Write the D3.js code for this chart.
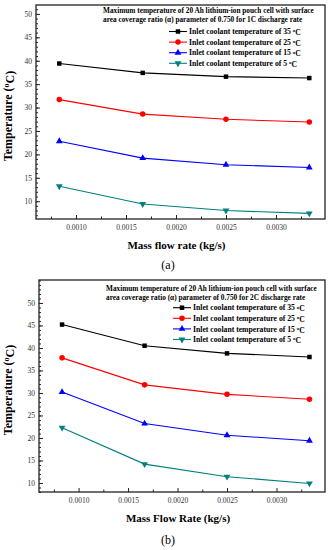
<!DOCTYPE html>
<html>
<head>
<meta charset="utf-8">
<script src="https://cdn.jsdelivr.net/npm/d3@7"></script>
<style>
  body { margin: 0; background: #fff; }
  svg { display: block; }
  text { font-family: "Liberation Serif", "Times New Roman", serif; }
</style>
</head>
<body>
<div id="chart"></div>
<script>
// data
var massFlow = [0.000833, 0.001667, 0.0025, 0.003333];
var inletTemps = ["35", "25", "15", "5"];
var xTicks = [0.0010, 0.0015, 0.0020, 0.0025, 0.0030];
var yTicks = [10, 15, 20, 25, 30, 35, 40, 45, 50];

// 1C discharge
var tempA35 = [39.4, 37.4, 36.6, 36.3];
var tempA25 = [31.7, 28.6, 27.5, 26.9];
var tempA15 = [22.8, 19.2, 17.8, 17.2];
var tempA5 = [13.2, 9.4, 8.0, 7.4];
// 2C discharge
var tempB35 = [45.2, 40.5, 38.8, 38.0];
var tempB25 = [37.8, 31.8, 29.7, 28.6];
var tempB15 = [30.2, 23.2, 20.6, 19.4];
var tempB5 = [22.3, 14.2, 11.4, 9.9];

var colors = ["#000000", "#ff0000", "#0000ff", "#008080"];
var symbols = [d3.symbolSquare, d3.symbolCircle, d3.symbolTriangle, d3.symbolTriangle];

var svg = d3.select("#chart").append("svg")
    .attr("width", 330)
    .attr("height", 550);

function drawPanel(opt) {
    var g = svg.append("g");
    var x = d3.scaleLinear().domain([0.0006, 0.00349]).range([opt.left, opt.right]);
    var y = d3.scaleLinear().domain(opt.yDomain).range([opt.bottom, opt.top]);

    // frame
    g.append("rect")
        .attr("x", opt.left).attr("y", opt.top)
        .attr("width", opt.right - opt.left).attr("height", opt.bottom - opt.top)
        .attr("fill", "none").attr("stroke", "#222").attr("stroke-width", 1.3);

    // x axis, inward ticks
    var xMinor = d3.range(0.00075, 0.0034, 0.0005);
    g.append("g")
        .attr("transform", "translate(0," + opt.bottom + ")")
        .call(d3.axisTop(x).tickValues(xMinor).tickSize(2.5).tickFormat(""))
        .call(function(a) { a.select(".domain").remove(); });
    var xa = g.append("g")
        .attr("transform", "translate(0," + opt.bottom + ")")
        .call(d3.axisTop(x).tickValues(xTicks).tickSize(4).tickFormat(d3.format(".4f")));
    xa.select(".domain").remove();
    xa.selectAll("text").attr("y", 11).attr("dy", 0)
        .style("font-size", "7.5px").attr("fill", "#333");

    // y axis, inward ticks
    var yMinor = d3.range(Math.ceil(opt.yDomain[0]), opt.yDomain[1], 1);
    g.append("g")
        .attr("transform", "translate(" + opt.left + ",0)")
        .call(d3.axisRight(y).tickValues(yMinor).tickSize(2).tickFormat(""))
        .call(function(a) { a.select(".domain").remove(); });
    var ya = g.append("g")
        .attr("transform", "translate(" + opt.left + ",0)")
        .call(d3.axisRight(y).tickValues(yTicks).tickSize(4));
    ya.select(".domain").remove();
    ya.selectAll("text").attr("x", -4).attr("dy", "0.32em")
        .attr("text-anchor", "end")
        .style("font-size", "7.5px").attr("fill", "#333");
    g.selectAll(".tick line").attr("stroke", "#222");

    // lines and markers
    var line = d3.line()
        .x(function(d, i) { return x(massFlow[i]); })
        .y(function(d) { return y(d); });
    opt.series.forEach(function(vals, s) {
        g.append("path").datum(vals)
            .attr("d", line).attr("fill", "none")
            .attr("stroke", colors[s]).attr("stroke-width", 1.1);
        g.selectAll(null).data(vals).enter().append("path")
            .attr("d", d3.symbol().type(symbols[s]).size(s === 1 ? 24 : 20))
            .attr("transform", function(d, i) {
                return "translate(" + x(massFlow[i]) + "," + y(d) + ")" + (s === 3 ? " rotate(180)" : "");
            })
            .attr("fill", colors[s]);
    });

    // title
    var tt = g.append("text")
        .attr("x", opt.titleX).attr("y", opt.titleY)
        .style("font-size", "7.3px").style("font-weight", "bold");
    tt.append("tspan").attr("x", opt.titleX).text(opt.title[0]);
    tt.append("tspan").attr("x", opt.titleX).attr("dy", 9.5).text(opt.title[1]);

    // legend
    inletTemps.forEach(function(t, s) {
        var ly = opt.legY + s * 10.6;
        g.append("line")
            .attr("x1", opt.legX).attr("x2", opt.legX + 18)
            .attr("y1", ly).attr("y2", ly)
            .attr("stroke", colors[s]).attr("stroke-width", 1.1);
        g.append("path")
            .attr("d", d3.symbol().type(symbols[s]).size(s === 1 ? 24 : 20))
            .attr("transform", "translate(" + (opt.legX + 9) + "," + ly + ")" + (s === 3 ? " rotate(180)" : ""))
            .attr("fill", colors[s]);
        var lt = g.append("text")
            .attr("x", opt.legX + 20).attr("y", ly).attr("dy", "0.35em")
            .style("font-size", "7.7px").style("font-weight", "bold");
        lt.append("tspan").text("Inlet coolant temperature of " + t + " ");
        lt.append("tspan").attr("dy", "-0.35em").style("font-size", "5px").text("o");
        lt.append("tspan").attr("dy", "0.35em").text("C");
    });

    // axis labels
    var yl = g.append("text")
        .attr("transform", "translate(" + opt.yLabelX + "," + opt.yLabelY + ") rotate(-90)")
        .attr("text-anchor", "middle")
        .style("font-size", "12px").style("font-weight", "bold");
    yl.append("tspan").text("Temperature (");
    yl.append("tspan").attr("dy", "-0.4em").style("font-size", "8px").text("o");
    yl.append("tspan").attr("dy", "0.4em").text("C)");

    g.append("text")
        .attr("x", (opt.left + opt.right) / 2 - 4).attr("y", opt.xLabelY)
        .attr("text-anchor", "middle").attr("dy", "0.35em")
        .style("font-size", "11px").style("font-weight", "bold")
        .text(opt.xLabel);

    g.append("text")
        .attr("x", 168).attr("y", opt.tagY)
        .attr("text-anchor", "middle").attr("dy", "0.35em")
        .style("font-size", "12px")
        .text(opt.tag);
}

drawPanel({
    left: 36, right: 325, top: 5, bottom: 219,
    yDomain: [6.2, 51.9],
    series: [tempA35, tempA25, tempA15, tempA5],
    title: ["Maximum temperature of 20 Ah lithium-ion pouch cell with surface",
            "area coverage ratio (\u03b1) parameter of 0.750 for 1C discharge rate"],
    titleX: 103, titleY: 12.5,
    legX: 169, legY: 31.5,
    yLabelX: 12, yLabelY: 116,
    xLabel: "Mass flow rate (kg/s)", xLabelY: 245,
    tag: "(a)", tagY: 265
});

drawPanel({
    left: 39, right: 325, top: 280, bottom: 492,
    yDomain: [8.0, 55.1],
    series: [tempB35, tempB25, tempB15, tempB5],
    title: ["Maximum temperature of 20 Ah lithium-ion pouch cell with surface",
            "area coverage ratio (\u03b1) parameter of 0.750 for 2C discharge rate"],
    titleX: 106, titleY: 290.5,
    legX: 173, legY: 307.7,
    yLabelX: 12, yLabelY: 390,
    xLabel: "Mass Flow Rate (kg/s)", xLabelY: 518,
    tag: "(b)", tagY: 540
});
</script>
</body>
</html>
